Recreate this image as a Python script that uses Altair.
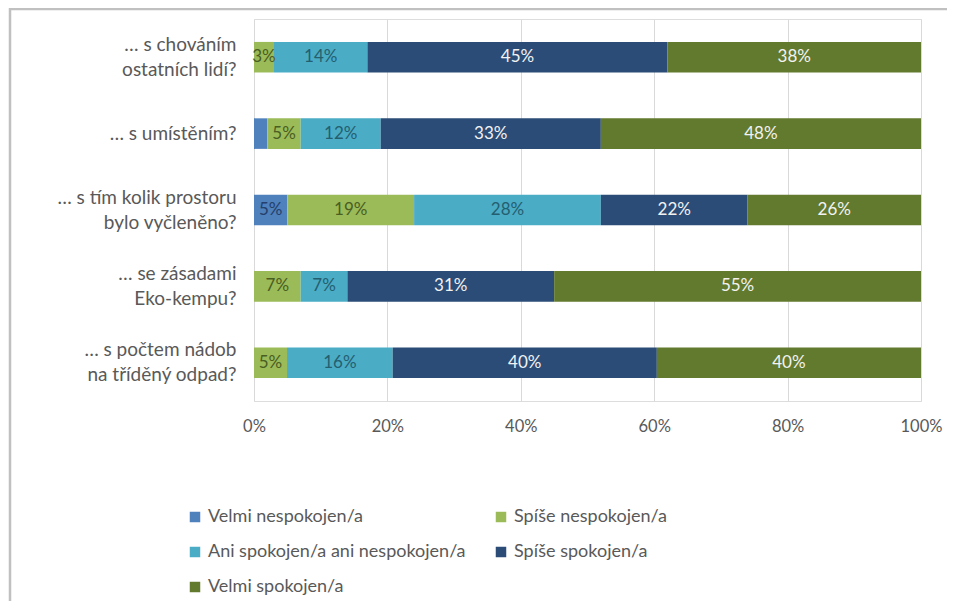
import altair as alt
import pandas as pd

questions = [
    "… s chováním|ostatních lidí?",
    "… s umístěním?",
    "… s tím kolik prostoru|bylo vyčleněno?",
    "… se zásadami|Eko-kempu?",
    "… s počtem nádob|na tříděný odpad?",
]
categories = [
    "Velmi nespokojen/a",
    "Spíše nespokojen/a",
    "Ani spokojen/a ani nespokojen/a",
    "Spíše spokojen/a",
    "Velmi spokojen/a",
]
velmi_nespokojen = [0, 2, 5, 0, 0]
spise_nespokojen = [3, 5, 19, 7, 5]
ani_ani = [14, 12, 28, 7, 16]
spise_spokojen = [45, 33, 22, 31, 40]
velmi_spokojen = [38, 48, 26, 55, 40]

colors = ["#4f81bd", "#9bbb59", "#4bacc6", "#2b4c77", "#627a2e"]
text_colors = ["#24406b", "#4a5e22", "#245f70", "#f2f2f2", "#f2f2f2"]

series = [velmi_nespokojen, spise_nespokojen, ani_ani, spise_spokojen, velmi_spokojen]
rows = []
for ci, (cat, vals) in enumerate(zip(categories, series)):
    for qi, (q, v) in enumerate(zip(questions, vals)):
        rows.append({"question": q, "category": cat, "order": ci, "value": v})
df = pd.DataFrame(rows)

FONT = "Lato"
GRAY = "#595959"

base = alt.Chart(df).transform_stack(
    stack="value",
    groupby=["question"],
    as_=["s", "e"],
    offset="normalize",
    sort=[alt.SortField("order", "ascending")],
).transform_calculate(mid="(datum.s + datum.e) / 2")

y_enc = alt.Y(
    "question:N",
    sort=questions,
    title=None,
    scale=alt.Scale(paddingInner=0.6, paddingOuter=0.3),
    axis=alt.Axis(
        labelExpr="split(datum.label, '|')",
        labelFont=FONT,
        labelFontSize=19,
        labelColor=GRAY,
        labelPadding=18,
        labelLineHeight=25,
        labelLimit=400,
        labelOffset={"condition": {"test": "indexof(datum.value, '|') >= 0", "value": -12.5}, "value": 0},
        domain=False,
        ticks=False,
        grid=False,
    ),
)

bars = base.mark_bar().encode(
    x=alt.X(
        "s:Q",
        scale=alt.Scale(domain=[0, 1], nice=False),
        title=None,
        axis=alt.Axis(
            values=[0, 0.2, 0.4, 0.6, 0.8, 1.0],
            format=".0%",
            labelFont=FONT,
            labelFontSize=16.5,
            labelColor=GRAY,
            labelPadding=17,
            labelFlush=False,
            domain=False,
            ticks=False,
            grid=True,
            gridColor="#d9d9d9",
        ),
    ),
    x2="e:Q",
    y=y_enc,
    color=alt.Color(
        "category:N",
        sort=categories,
        scale=alt.Scale(domain=categories, range=colors),
        legend=alt.Legend(
            title=None,
            orient="none",
            direction="horizontal",
            legendX=-68,
            legendY=489,
            columns=2,
            columnPadding=26,
            rowPadding=17,
            symbolType="square",
            symbolSize=110,
            symbolStrokeWidth=0,
            labelFont=FONT,
            labelFontSize=18,
            labelColor=GRAY,
            labelOffset=4,
            labelLimit=400,
        ),
    ),
)

labels = base.mark_text(font=FONT, fontSize=17).encode(
    x=alt.X("mid:Q"),
    y=alt.Y("question:N", sort=questions),
    text=alt.Text("label:N"),
    color=alt.Color(
        "category:N",
        scale=alt.Scale(domain=categories, range=text_colors),
        legend=None,
    ),
).transform_filter("datum.value >= 3").transform_calculate(label="datum.value + '%'")

frame = alt.Chart(pd.DataFrame({"a": [0]})).mark_rect(
    fill=None, stroke="#c0c0c0", strokeWidth=2.5
).encode(
    x=alt.value(-244), x2=alt.value(900), y=alt.value(-10), y2=alt.value(900)
)

chart = alt.layer(frame, bars, labels).resolve_scale(color="independent").properties(
    width=667,
    height=382,
    autosize=alt.AutoSizeParams(type="none"),
    padding={"left": 246, "top": 11, "right": 26, "bottom": 200},
).configure_view(stroke=None).configure(background="white")

chart.save("out.html", embed_options={"renderer": "svg", "actions": False})
